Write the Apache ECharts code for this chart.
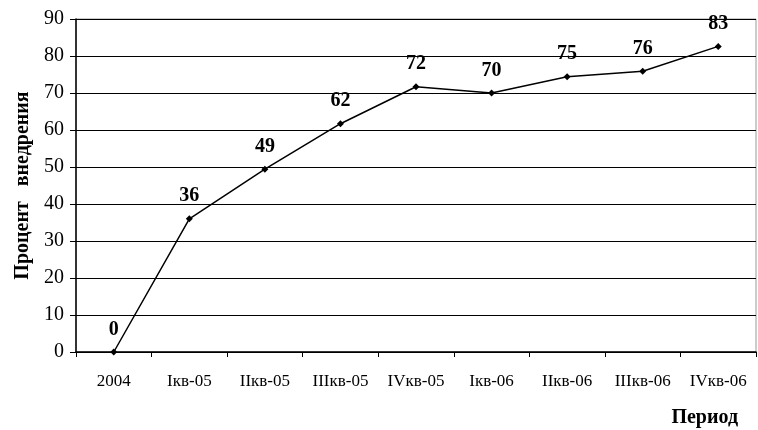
<!DOCTYPE html>
<html><head><meta charset="utf-8">
<script src="https://cdn.jsdelivr.net/npm/echarts@6/dist/echarts.min.js"></script>
<style>html,body{margin:0;padding:0;background:#fff}#c{width:758px;height:430px}</style>
</head><body><div id="c"></div>
<script>
const categories = ['2004','Iкв-05','IIкв-05','IIIкв-05','IVкв-05','Iкв-06','IIкв-06','IIIкв-06','IVкв-06'];
const values = [0, 36, 49.4, 61.7, 71.7, 70, 74.4, 75.9, 82.6];
const labels = ['0','36','49','62','72','70','75','76','83'];
const yTicks = [0,10,20,30,40,50,60,70,80,90];

const chart = echarts.init(document.getElementById('c'), null, {renderer:'canvas'});
const font = '"Liberation Serif","Times New Roman",serif';
chart.setOption({
  animation:false,
  grid:{left:76,right:2,top:19,bottom:78,containLabel:false,show:true,borderColor:'#999',borderWidth:1},
  xAxis:{type:'category',data:categories,boundaryGap:true,
    axisLine:{lineStyle:{color:'#000',width:1.5}},
    axisTick:{show:true,alignWithLabel:false,length:5,lineStyle:{color:'#000'}},
    axisLabel:{color:'#000',fontFamily:font,fontSize:17,margin:21},
    name:'Период',nameLocation:'end',nameGap:0,
    nameTextStyle:{color:'#000',fontFamily:font,fontSize:20,fontWeight:'bold',align:'right',verticalAlign:'top',padding:[56,18,0,0]}
  },
  yAxis:{type:'value',min:0,max:90,interval:10,
    axisLine:{show:true,lineStyle:{color:'#000',width:1.5}},
    axisTick:{show:true,length:6,lineStyle:{color:'#000'}},
    splitLine:{lineStyle:{color:'#000',width:1}},
    axisLabel:{color:'#000',fontFamily:font,fontSize:20,margin:12,formatter:v=>yTicks.includes(v)?String(v):''},
    name:'Процент   внедрения',nameLocation:'middle',nameGap:43,nameRotate:90,
    nameTextStyle:{color:'#000',fontFamily:font,fontSize:20,fontWeight:'bold'}
  },
  series:[{type:'line',data:values,symbol:'diamond',symbolSize:7,
    lineStyle:{color:'#000',width:1.5},itemStyle:{color:'#000'},
    label:{show:true,position:'top',distance:9,color:'#000',fontFamily:font,fontSize:20,fontWeight:'bold',
      formatter:p=>labels[p.dataIndex]}
  }]
});
</script></body></html>
